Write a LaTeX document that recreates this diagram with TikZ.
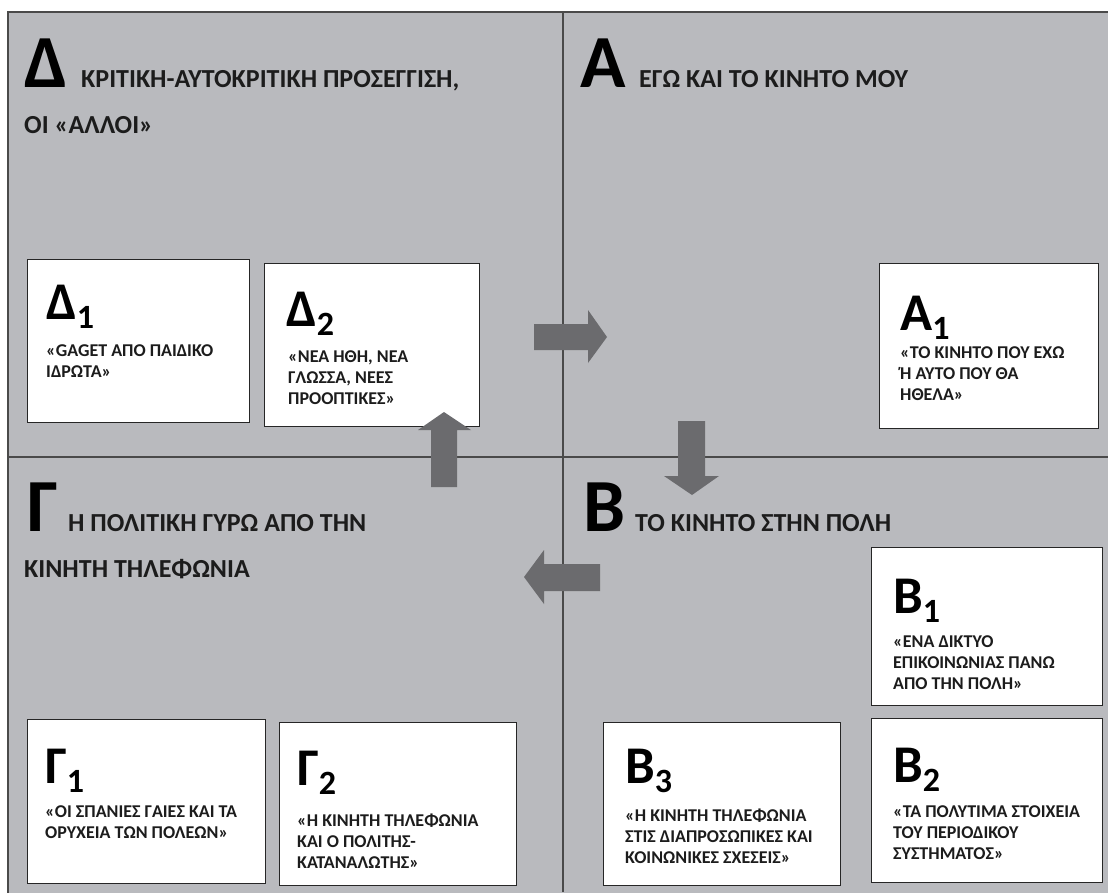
\documentclass[tikz,border=0pt]{standalone}
\usepackage{fontspec}
\setmainfont{Carlito}
\definecolor{bg}{HTML}{B9BABE}
\definecolor{arr}{HTML}{6B6B6E}
\definecolor{ln}{HTML}{4A4A4A}
\definecolor{tx}{HTML}{1C1C1C}
\newcommand{\subx}[1]{\raisebox{-9pt}{\fontsize{34}{34}\selectfont #1}}
\newcommand{\twol}[2]{\vtop{\hbox{#1}\hbox{#2}}}
\newcommand{\threel}[3]{\vtop{\hbox{#1}\hbox{#2}\hbox{#3}}}
\begin{document}
\begin{tikzpicture}[x=1pt,y=-1pt,
  box/.style={draw=black!85, line width=1.3pt, fill=white, inner sep=0, anchor=north west},
  hdr/.style={anchor=base west, inner sep=0, text=tx, font=\fontsize{26}{30}\selectfont\bfseries},
  big/.style={anchor=base west, inner sep=0, text=black, font=\fontsize{75}{75}\selectfont\bfseries},
  lbl/.style={anchor=base west, inner sep=0, text=black, font=\fontsize{53}{53}\selectfont\bfseries},
  body/.style={anchor=base west, inner sep=0, text=tx, font=\fontsize{18}{21}\selectfont\bfseries},
  blk/.style={fill=arr, draw=none},
  divider/.style={draw=ln, line width=1.2pt}]
\useasboundingbox (0,0) rectangle (1108,892);
\clip (0,0) rectangle (1108,892);
\fill[white] (0,0) rectangle (1108,892);
% frame and quadrants
\draw[fill=bg, draw=ln, line width=1.3pt] (8,12) rectangle (1120,904);
\coordinate (vt) at (563,12);
\coordinate (vb) at (563,892);
\coordinate (hl) at (8,457);
\coordinate (hr) at (1108,457);
\draw[divider] (vt) -- (vb);
\draw[divider] (hl) -- (hr);

% headers
\node[big] (D) at (24,87) {Δ};
\node[hdr] (Dt) at (81,87) {ΚΡΙΤΙΚΗ-ΑΥΤΟΚΡΙΤΙΚΗ ΠΡΟΣΕΓΓΙΣΗ,};
\node[hdr] (Dt2) at (24,133) {ΟΙ «ΆΛΛΟΙ»};
\node[big] (A) at (580,87) {Α};
\node[hdr] (At) at (639,87) {ΕΓΩ ΚΑΙ ΤΟ ΚΙΝΗΤΟ ΜΟΥ};
\node[big] (G) at (27,531) {Γ};
\node[hdr] (Gt) at (68,531) {Η ΠΟΛΙΤΙΚΗ ΓΥΡΩ ΑΠΟ ΤΗΝ};
\node[hdr] (Gt2) at (24,577) {ΚΙΝΗΤΗ ΤΗΛΕΦΩΝΙΑ};
\node[big] (B) at (583,531) {Β};
\node[hdr] (Bt) at (635,531) {ΤΟ ΚΙΝΗΤΟ ΣΤΗΝ ΠΟΛΗ};

% boxes
\node[box, minimum width=222, minimum height=163] (d1) at (27,259) {};
\node[box, minimum width=215, minimum height=163] (d2) at (264,263) {};
\node[box, minimum width=219, minimum height=165] (a1) at (879,263) {};
\node[box, minimum width=231, minimum height=158] (b1) at (871,547) {};
\node[box, minimum width=231, minimum height=164] (b2) at (871,718) {};
\node[box, minimum width=237, minimum height=163] (b3) at (603,722) {};
\node[box, minimum width=238, minimum height=164] (g1) at (27,719) {};
\node[box, minimum width=237, minimum height=163] (g2) at (279,722) {};

% box labels and texts
\node[lbl] (d1l) at (46,319) {Δ\subx{1}};
\node[body] (d1t) at (46,356) {\twol{«GAGET ΑΠΟ ΠΑΙΔΙΚΟ}{ΙΔΡΩΤΑ»}};
\node[lbl] (d2l) at (286,326) {Δ\subx{2}};
\node[body] (d2t) at (288,362) {\threel{«ΝΕΑ ΗΘΗ, ΝΕΑ}{ΓΛΩΣΣΑ, ΝΕΕΣ}{ΠΡΟΟΠΤΙΚΕΣ»}};
\node[lbl] (a1l) at (900,330) {Α\subx{1}};
\node[body] (a1t) at (900,358) {\threel{«ΤΟ ΚΙΝΗΤΟ ΠΟΥ ΕΧΩ}{Ή ΑΥΤΟ ΠΟΥ ΘΑ}{ΗΘΕΛΑ»}};
\node[lbl] (b1l) at (893,613) {Β\subx{1}};
\node[body] (b1t) at (893,647) {\threel{«ΕΝΑ ΔΙΚΤΥΟ}{ΕΠΙΚΟΙΝΩΝΙΑΣ ΠΑΝΩ}{ΑΠΟ ΤΗΝ ΠΟΛΗ»}};
\node[lbl] (b2l) at (893,782) {Β\subx{2}};
\node[body] (b2t) at (893,817) {\threel{«ΤΑ ΠΟΛΥΤΙΜΑ ΣΤΟΙΧΕΙΑ}{ΤΟΥ ΠΕΡΙΟΔΙΚΟΥ}{ΣΥΣΤΗΜΑΤΟΣ»}};
\node[lbl] (b3l) at (625,783) {Β\subx{3}};
\node[body] (b3t) at (625,821) {\threel{«Η ΚΙΝΗΤΗ ΤΗΛΕΦΩΝΙΑ}{ΣΤΙΣ ΔΙΑΠΡΟΣΩΠΙΚΕΣ ΚΑΙ}{ΚΟΙΝΩΝΙΚΕΣ ΣΧΕΣΕΙΣ»}};
\node[lbl] (g1l) at (45,783) {Γ\subx{1}};
\node[body] (g1t) at (45,817) {\twol{«ΟΙ ΣΠΑΝΙΕΣ ΓΑΙΕΣ ΚΑΙ ΤΑ}{ΟΡΥΧΕΙΑ ΤΩΝ ΠΟΛΕΩΝ»}};
\node[lbl] (g2l) at (297,785) {Γ\subx{2}};
\node[body] (g2t) at (297,826) {\threel{«Η ΚΙΝΗΤΗ ΤΗΛΕΦΩΝΙΑ}{ΚΑΙ Ο ΠΟΛΙΤΗΣ-}{ΚΑΤΑΝΑΛΩΤΗΣ»}};

% block arrows (Δ -> Α -> Β -> Γ -> Δ)
\fill[blk] (534,324) -- (588,324) -- (588,310) -- (607,337) -- (588,363) -- (588,350) -- (534,350) -- cycle;
\fill[blk] (678,421) -- (705,421) -- (705,476) -- (719,476) -- (692,495) -- (664,476) -- (678,476) -- cycle;
\fill[blk] (600,564) -- (544,564) -- (544,550) -- (524,577) -- (544,604) -- (544,591) -- (600,591) -- cycle;
\fill[blk] (431,487) -- (431,430) -- (418,430) -- (444,412) -- (471,430) -- (457,430) -- (457,487) -- cycle;
\end{tikzpicture}
\end{document}
